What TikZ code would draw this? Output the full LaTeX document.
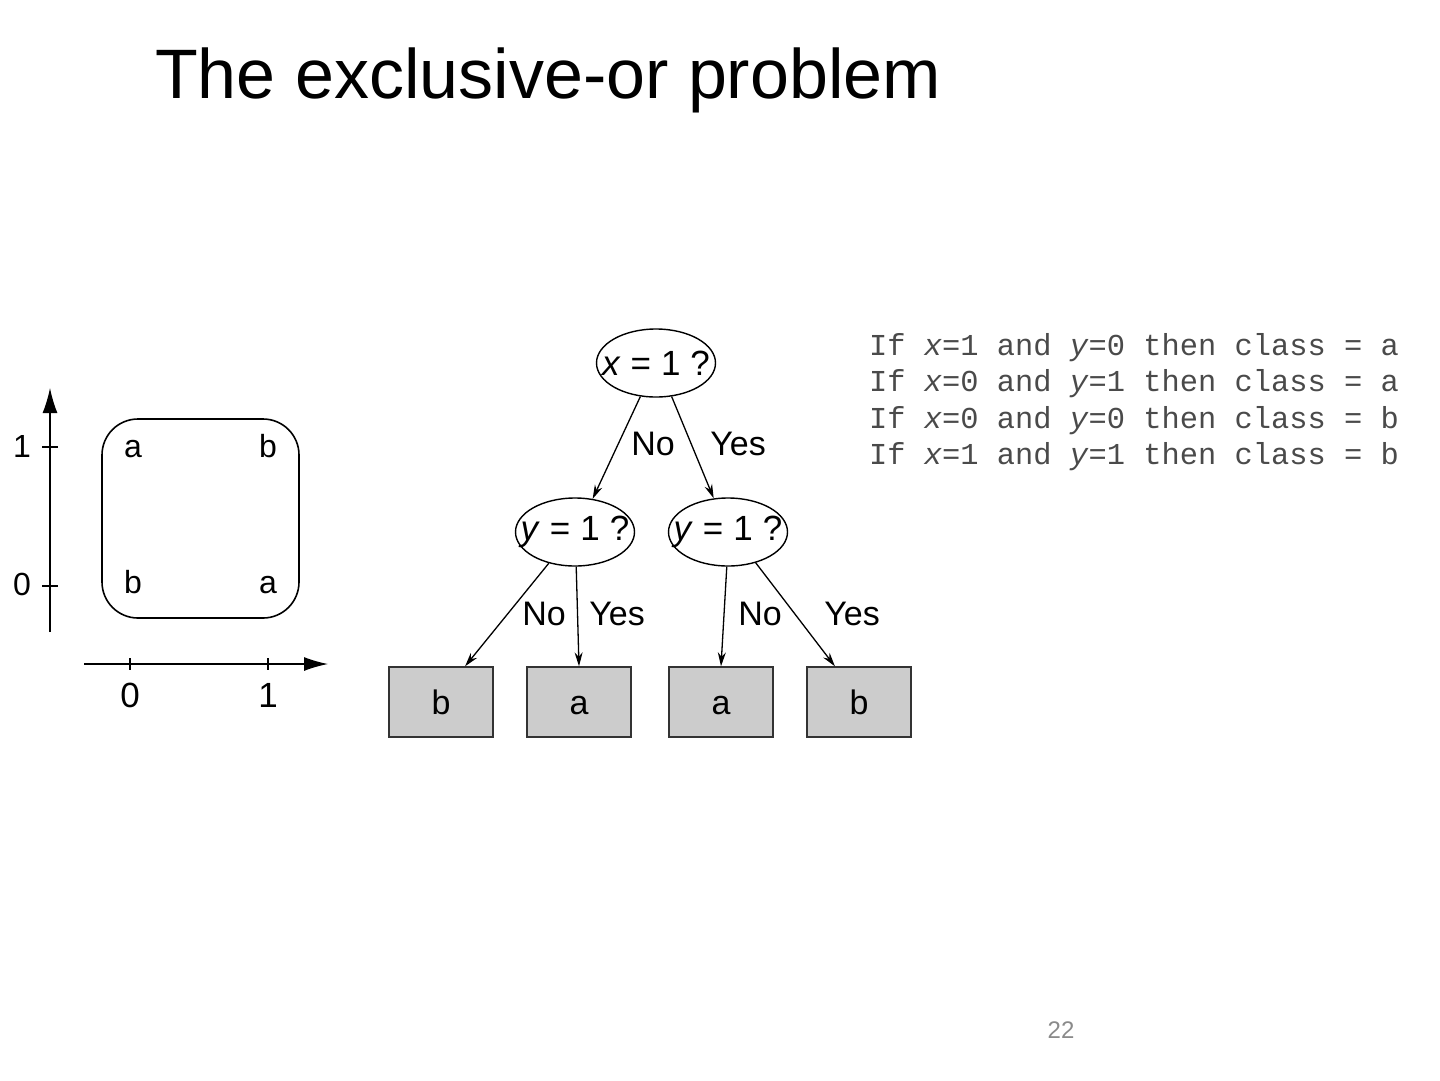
\documentclass[tikz,border=0pt]{standalone}
\usepackage{fontspec}
\setmainfont{Liberation Sans}
\newfontfamily\monofont{Liberation Mono}
\usetikzlibrary{shapes.geometric,arrows.meta}
\definecolor{rulegray}{HTML}{4A4A4A}
\definecolor{leafgray}{HTML}{CCCCCC}
\definecolor{pagegray}{HTML}{8A8A8A}
\newcommand{\qtext}[1]{\makebox[0pt]{#1}}
\newcommand{\gap}{\hspace{10pt}}
\begin{document}
\begin{tikzpicture}[x=1pt,y=-1pt,
  lbl/.style={font=\fontsize{32}{32}\selectfont, inner sep=0pt, text height=23pt, text depth=0pt},
  tlbl/.style={font=\fontsize{34}{34}\selectfont, inner sep=0pt, text height=24pt, text depth=0pt},
  qnode/.style={ellipse, draw, line width=1.4pt, minimum width=119pt, minimum height=68pt, inner sep=0pt, font=\fontsize{35}{35}\selectfont},
  leaf/.style={rectangle, draw=black!80, fill=leafgray, line width=1.4pt, minimum width=104pt, minimum height=70pt, inner sep=0pt, text height=24pt, text depth=0pt, font=\fontsize{34}{34}\selectfont},
  edge/.style={line width=1.3pt, -{Stealth[length=14pt,width=8pt]}},
  rules/.style={font=\monofont\fontsize{30.4}{36.5}\selectfont, text=rulegray, anchor=north west, inner sep=0pt, align=left}
]
\useasboundingbox (0,0) rectangle (1440,1080);
% title
\node[anchor=base west, inner sep=0pt, font=\fontsize{70}{70}\selectfont] (title) at (155,98) {The exclusive-or problem};

% left plot
\coordinate (ybot) at (50,632);
\coordinate (ytop) at (50,388);
\coordinate (xleft) at (84,664);
\coordinate (xright) at (328,664);
\draw[line width=1.3pt, -{Latex[length=25pt,width=15pt]}] (ybot) -- (ytop);
\draw[line width=1.3pt, -{Latex[length=24pt,width=14pt]}] (xleft) -- (xright);
\draw[line width=1.3pt] (42,447) -- (58,447) (42,586) -- (58,586);
\draw[line width=1.3pt] (130,658) -- (130,670) (268,658) -- (268,670);
\node[lbl] (y1) at (22,446) {1};
\node[lbl] (y0) at (22,584) {0};
\node[lbl, font=\fontsize{35}{35}\selectfont, text height=25pt] (x0) at (130,695) {0};
\node[lbl, font=\fontsize{35}{35}\selectfont, text height=25pt] (x1) at (268,695) {1};
\draw[line width=1.6pt, rounded corners=36pt] (102,419) rectangle (299,618);
\node[lbl] (p01) at (133,446) {a};
\node[lbl] (p11) at (268,446) {b};
\node[lbl] (p00) at (133,582) {b};
\node[lbl] (p10) at (268,582) {a};

% tree
\node[qnode] (root) at (656,363) {\qtext{\textit{x}\gap=\gap1\gap?}};
\node[qnode] (l) at (575,532) {\qtext{\textit{y}\gap=\gap1\gap?}};
\node[qnode] (r) at (728,532) {\qtext{\textit{y}\gap=\gap1\gap?}};
\node[leaf] (lb) at (441,702) {b};
\node[leaf] (la) at (579,702) {a};
\node[leaf] (ra) at (721,702) {a};
\node[leaf] (rb) at (859,702) {b};

\draw[edge] (root.-115) -- (l.62);
\draw[edge] (root.-65) -- (r.113);
\draw[edge] (l.-130) -- (lb.56);
\draw[edge] (l.-88) -- (la.north);
\draw[edge] (r.-92) -- (ra.north);
\draw[edge] (r.-48) -- (rb.124);

\node[tlbl] (n1) at (653,443) {No};
\node[tlbl] (y1l) at (738,443) {Yes};
\node[tlbl] (n2) at (544,613) {No};
\node[tlbl] (y2) at (617,613) {Yes};
\node[tlbl] (n3) at (760,613) {No};
\node[tlbl] (y3) at (852,613) {Yes};

% rules
\node[rules] (rulestext) at (869,333) {If \textit{x}=1 and \textit{y}=0 then class = a\\If \textit{x}=0 and \textit{y}=1 then class = a\\If \textit{x}=0 and \textit{y}=0 then class = b\\If \textit{x}=1 and \textit{y}=1 then class = b};

% page number
\node[inner sep=0pt, font=\fontsize{24}{24}\selectfont, text=pagegray] (page) at (1061,1030) {22};
\end{tikzpicture}
\end{document}
